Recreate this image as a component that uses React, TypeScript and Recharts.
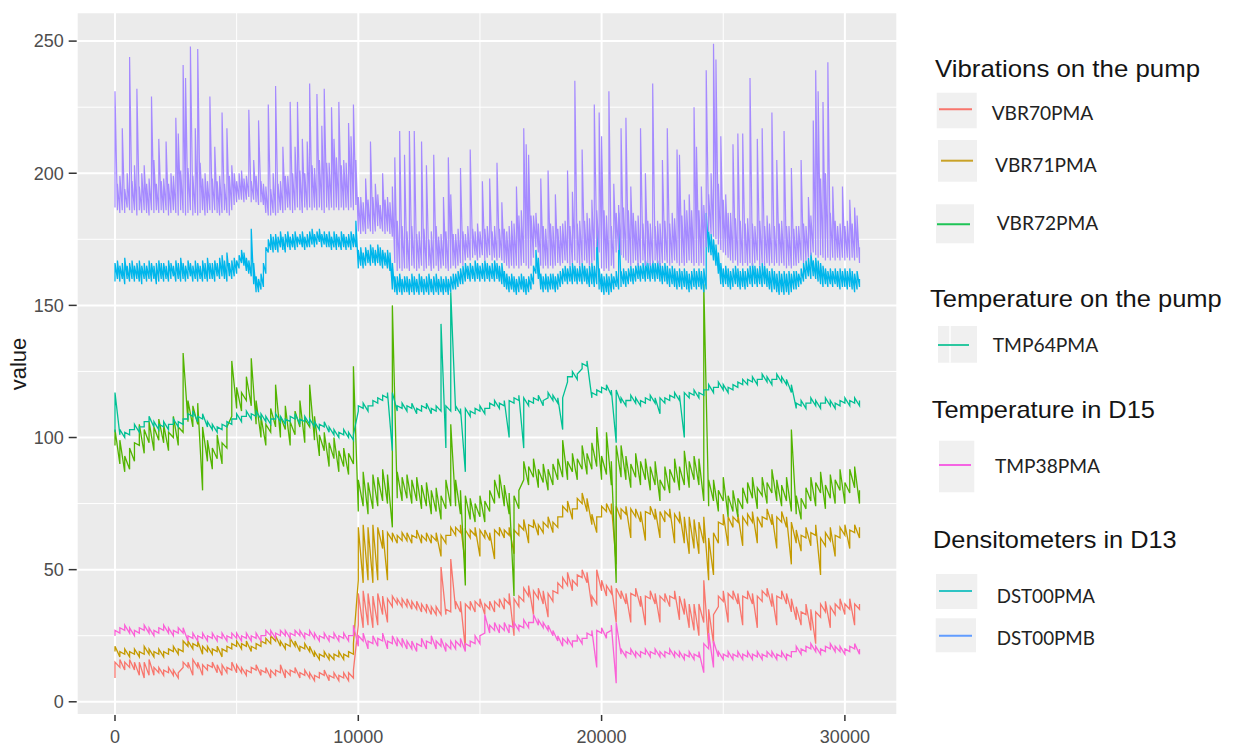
import React from 'react';
import { LineChart, Line, XAxis, YAxis, CartesianGrid, ReferenceLine } from 'recharts';

// sampling step (x units) of each stored series
const FINE_STEP = 100;
const STEP = 200;

// DST00PMB (purple): per-100 bin high / low
const dst00pmbHigh = [
  231, 196, 199, 217, 194, 200, 244, 197, 203, 232, 195, 200, 203, 196, 198, 229, 205, 196, 213, 197,
  198, 212, 196, 200, 199, 221, 215, 201, 241, 236, 202, 248, 199, 217, 247, 204, 198, 200, 197, 229,
  198, 210, 197, 199, 223, 196, 217, 199, 203, 200, 197, 200, 201, 198, 199, 224, 197, 205, 199, 220,
  197, 196, 195, 226, 194, 200, 233, 196, 197, 210, 199, 199, 227, 200, 210, 227, 201, 213, 200, 212,
  234, 203, 202, 230, 205, 218, 232, 204, 204, 225, 213, 206, 227, 203, 205, 204, 219, 214, 226, 205,
  191, 191, 189, 198, 190, 212, 191, 196, 192, 188, 200, 190, 191, 189, 195, 206, 182, 216, 180, 207,
  178, 216, 180, 216, 177, 178, 212, 179, 203, 175, 178, 207, 180, 176, 177, 191, 178, 206, 192, 177,
  177, 179, 202, 178, 177, 180, 209, 179, 178, 181, 178, 197, 179, 180, 198, 178, 180, 204, 179, 189,
  179, 178, 180, 182, 181, 195, 184, 186, 217, 211, 207, 184, 184, 185, 181, 198, 180, 179, 201, 181,
  180, 192, 179, 180, 181, 182, 201, 180, 193, 235, 181, 182, 209, 182, 185, 183, 190, 226, 186, 223,
  214, 186, 184, 231, 180, 196, 185, 188, 217, 187, 221, 186, 195, 185, 182, 184, 217, 181, 200, 182,
  181, 234, 180, 182, 181, 205, 182, 217, 181, 185, 183, 209, 207, 184, 190, 186, 192, 186, 225, 210,
  186, 195, 188, 239, 192, 200, 249, 243, 196, 214, 190, 192, 185, 185, 211, 183, 215, 182, 215, 181,
  183, 236, 181, 180, 213, 182, 217, 180, 184, 181, 223, 180, 205, 181, 182, 216, 180, 180, 202, 179,
  180, 180, 205, 181, 180, 191, 184, 220, 239, 231, 198, 227, 200, 242, 185, 195, 182, 180, 181, 195,
  180, 182, 190, 181, 187, 184, 172,
];
const dst00pmbLow = [
  187, 186, 185, 186, 185, 187, 186, 185, 186, 184, 186, 185, 186, 185, 184, 186, 185, 186, 185, 186,
  185, 186, 184, 185, 186, 185, 184, 186, 185, 184, 185, 186, 184, 185, 184, 185, 186, 184, 185, 186,
  185, 186, 185, 184, 185, 186, 185, 184, 186, 188, 189, 190, 190, 189, 190, 191, 189, 190, 189, 188,
  189, 188, 185, 184, 184, 185, 184, 185, 186, 185, 186, 187, 186, 185, 186, 187, 186, 185, 187, 186,
  187, 186, 187, 186, 187, 186, 185, 187, 186, 187, 186, 187, 186, 187, 186, 187, 186, 187, 186, 188,
  178, 177, 178, 177, 179, 178, 177, 178, 180, 179, 178, 177, 178, 177, 176, 166, 163, 164, 163, 164,
  164, 163, 165, 164, 163, 164, 165, 163, 164, 165, 163, 164, 165, 163, 164, 165, 164, 163, 164, 165,
  164, 165, 166, 165, 167, 168, 167, 168, 169, 167, 168, 169, 167, 168, 169, 167, 168, 167, 168, 167,
  166, 165, 164, 165, 164, 165, 164, 165, 166, 165, 164, 165, 168, 172, 170, 165, 164, 165, 164, 165,
  164, 165, 166, 165, 166, 167, 166, 165, 166, 167, 166, 165, 166, 167, 166, 165, 166, 167, 172, 170,
  164, 163, 164, 163, 165, 164, 170, 171, 169, 168, 167, 166, 165, 166, 167, 165, 166, 167, 165, 166,
  165, 166, 167, 166, 165, 166, 167, 166, 165, 166, 167, 166, 165, 166, 165, 166, 167, 166, 165, 166,
  165, 166, 165, 172, 178, 177, 176, 175, 173, 171, 170, 169, 168, 167, 166, 167, 165, 166, 165, 166,
  165, 166, 165, 166, 167, 165, 166, 165, 166, 165, 166, 165, 166, 165, 166, 165, 164, 165, 164, 165,
  165, 166, 167, 166, 167, 168, 169, 170, 169, 168, 169, 168, 167, 168, 167, 168, 167, 168, 167, 168,
  167, 168, 167, 168, 167, 168, 166,
];

// DST00PMA (light blue): per-100 bin high / low
const dst00pmaHigh = [
  166, 167, 165, 166, 168, 165, 166, 167, 165, 166, 167, 165, 166, 165, 167, 166, 165, 166, 167, 166,
  166, 165, 167, 166, 165, 167, 166, 168, 166, 165, 167, 166, 165, 167, 166, 165, 167, 166, 168, 166,
  166, 167, 166, 168, 169, 167, 170, 166, 167, 168, 167, 169, 171, 170, 168, 167, 179, 166, 161, 160,
  162, 166, 172, 175, 177, 176, 177, 176, 178, 176, 177, 178, 176, 177, 178, 176, 177, 178, 176, 177,
  178, 179, 177, 178, 179, 177, 178, 177, 178, 176, 178, 177, 176, 178, 177, 176, 177, 178, 177, 182,
  171, 172, 170, 172, 171, 173, 172, 171, 173, 172, 171, 170, 171, 170, 166, 161, 161, 162, 160, 161,
  161, 160, 162, 161, 160, 162, 161, 160, 161, 162, 160, 161, 162, 160, 161, 160, 161, 160, 161, 162,
  162, 163, 164, 165, 166, 165, 166, 165, 167, 166, 165, 166, 167, 166, 165, 166, 167, 166, 165, 166,
  163, 162, 161, 162, 161, 160, 161, 162, 161, 160, 161, 162, 165, 171, 168, 162, 161, 162, 161, 162,
  162, 161, 162, 163, 164, 165, 164, 165, 166, 165, 164, 165, 166, 165, 164, 165, 166, 165, 181, 164,
  162, 161, 162, 161, 162, 161, 163, 185, 163, 164, 163, 164, 165, 164, 165, 166, 165, 166, 167, 166,
  166, 167, 166, 167, 166, 165, 166, 165, 164, 165, 164, 163, 164, 163, 164, 163, 162, 163, 164, 163,
  164, 163, 164, 185, 178, 177, 175, 173, 170, 166, 164, 165, 164, 163, 164, 165, 164, 163, 164, 163,
  164, 165, 166, 165, 164, 165, 166, 165, 164, 163, 164, 163, 162, 163, 162, 163, 162, 163, 162, 163,
  163, 162, 164, 166, 167, 168, 170, 167, 168, 167, 166, 165, 164, 163, 164, 163, 164, 163, 164, 163,
  164, 163, 164, 163, 162, 163, 160,
];
const dst00pmaLow = [
  159, 160, 159, 160, 158, 160, 159, 160, 159, 160, 159, 158, 160, 159, 160, 159, 160, 158, 159, 160,
  159, 160, 159, 160, 161, 159, 160, 159, 160, 159, 160, 161, 159, 160, 159, 160, 159, 160, 159, 160,
  160, 159, 161, 160, 161, 160, 159, 161, 160, 161, 162, 164, 166, 165, 163, 162, 161, 158, 155, 155,
  156, 157, 162, 170, 171, 170, 171, 170, 172, 171, 170, 172, 171, 172, 171, 172, 173, 172, 171, 172,
  172, 173, 172, 173, 174, 172, 173, 172, 172, 171, 172, 171, 172, 171, 172, 171, 172, 171, 172, 172,
  164, 165, 164, 165, 166, 165, 166, 165, 166, 165, 164, 165, 164, 163, 156, 155, 154, 155, 154, 155,
  155, 154, 155, 154, 155, 154, 155, 154, 155, 154, 155, 154, 155, 154, 155, 154, 155, 154, 155, 156,
  156, 157, 158, 158, 159, 160, 159, 160, 159, 160, 159, 160, 159, 160, 159, 160, 159, 160, 159, 158,
  157, 156, 155, 156, 155, 154, 155, 156, 155, 154, 155, 156, 158, 162, 160, 156, 155, 156, 155, 156,
  156, 155, 156, 157, 158, 159, 158, 159, 158, 159, 158, 159, 158, 159, 158, 157, 158, 157, 158, 156,
  155, 154, 155, 154, 155, 156, 157, 156, 157, 158, 157, 158, 159, 158, 159, 160, 159, 160, 159, 160,
  159, 160, 159, 160, 159, 158, 159, 158, 157, 158, 157, 156, 157, 156, 157, 156, 155, 156, 157, 156,
  157, 156, 155, 156, 170, 169, 167, 165, 162, 158, 157, 158, 157, 156, 157, 158, 157, 156, 157, 156,
  157, 158, 157, 158, 157, 158, 157, 158, 157, 156, 155, 156, 155, 154, 155, 154, 155, 154, 155, 156,
  156, 157, 158, 159, 160, 161, 160, 161, 160, 159, 158, 157, 158, 157, 158, 157, 158, 157, 156, 157,
  157, 156, 157, 156, 155, 156, 157,
];

// VBR72PMA (green): per-200 bin high / low
const vbr72pmaHigh = [
  103, 99, 93, 96, 98, 105, 103, 106, 104, 107,
  105, 102, 108, 104, 132, 114, 112, 113, 104, 99,
  96, 101, 98, 104, 129, 119, 117, 123, 130, 114,
  108, 105, 111, 120, 108, 112, 106, 110, 114, 107,
  120, 108, 101, 102, 98, 100, 95, 96, 94, 127,
  84, 87, 83, 86, 85, 88, 86, 150, 87, 85,
  86, 84, 85, 82, 83, 80, 81, 78, 84, 105,
  84, 80, 78, 77, 75, 78, 76, 80, 84, 86,
  82, 79, 78, 80, 91, 89, 92, 88, 90, 88,
  90, 92, 99, 91, 94, 92, 97, 94, 98, 104,
  93, 102, 91, 97, 97, 93, 90, 94, 91, 92,
  89, 91, 84, 89, 88, 92, 89, 95, 91, 93,
  92, 158, 84, 84, 80, 85, 78, 80, 77, 81,
  83, 85, 81, 85, 83, 88, 84, 82, 85, 103,
  78, 77, 81, 85, 83, 87, 82, 86, 84, 88,
  83, 88, 89, 80,
];
const vbr72pmaLow = [
  97, 90, 87, 88, 91, 97, 94, 98, 95, 99,
  98, 95, 100, 97, 102, 106, 104, 105, 80, 91,
  88, 92, 90, 96, 108, 111, 110, 114, 112, 105,
  100, 97, 102, 104, 100, 103, 97, 101, 104, 98,
  104, 99, 93, 95, 89, 92, 87, 89, 86, 90,
  72, 74, 71, 73, 74, 76, 75, 66, 77, 76,
  77, 75, 76, 73, 74, 71, 72, 69, 73, 74,
  74, 71, 44, 69, 68, 70, 68, 72, 75, 77,
  74, 71, 40, 73, 84, 82, 85, 81, 83, 80,
  82, 84, 85, 84, 87, 84, 88, 86, 88, 89,
  84, 86, 82, 45, 85, 84, 81, 85, 82, 84,
  80, 82, 76, 80, 79, 83, 80, 82, 81, 84,
  82, 76, 74, 76, 72, 76, 70, 72, 70, 73,
  75, 77, 73, 78, 75, 79, 76, 74, 76, 72,
  71, 69, 73, 76, 74, 79, 73, 77, 75, 80,
  75, 79, 81, 75,
];

// VBR71PMA (gold): per-200 bin high / low
const vbr71pmaHigh = [
  21, 19, 20, 19, 20, 19, 21, 20, 19, 20,
  19, 20, 21, 20, 23, 23, 22, 23, 21, 21,
  20, 21, 20, 21, 22, 23, 22, 23, 21, 22,
  23, 24, 25, 25, 23, 22, 24, 23, 21, 22,
  21, 19, 18, 19, 18, 18, 19, 18, 19, 22,
  66, 67, 66, 67, 66, 65, 64, 64, 63, 64,
  64, 63, 65, 63, 64, 63, 64, 63, 63, 66,
  66, 67, 65, 65, 66, 65, 65, 64, 65, 66,
  65, 66, 65, 67, 69, 67, 69, 67, 68, 70,
  68, 70, 74, 76, 73, 77, 79, 77, 71, 70,
  74, 75, 75, 74, 73, 74, 73, 73, 72, 72,
  74, 73, 72, 72, 73, 71, 72, 70, 70, 69,
  68, 70, 62, 64, 68, 71, 70, 70, 71, 70,
  71, 72, 70, 70, 73, 71, 70, 72, 70, 68,
  65, 63, 66, 64, 67, 62, 64, 66, 63, 66,
  67, 65, 67, 66,
];
const vbr71pmaLow = [
  19, 17, 18, 17, 18, 17, 18, 18, 17, 18,
  17, 18, 19, 18, 19, 21, 20, 21, 18, 19,
  18, 19, 17, 19, 20, 21, 20, 21, 19, 20,
  21, 22, 22, 23, 21, 20, 21, 21, 19, 20,
  19, 17, 16, 17, 16, 16, 17, 16, 17, 18,
  46, 45, 46, 45, 46, 58, 46, 61, 60, 61,
  61, 60, 62, 60, 61, 60, 61, 55, 60, 63,
  63, 64, 52, 62, 63, 55, 62, 61, 54, 63,
  62, 63, 56, 63, 65, 60, 66, 63, 64, 66,
  64, 66, 70, 72, 69, 73, 75, 72, 67, 64,
  70, 72, 71, 52, 69, 71, 62, 70, 68, 61,
  71, 69, 62, 68, 70, 60, 68, 60, 56, 58,
  56, 60, 46, 48, 60, 67, 59, 66, 68, 59,
  67, 68, 60, 66, 69, 67, 58, 68, 66, 52,
  60, 57, 62, 59, 63, 48, 59, 61, 55, 62,
  63, 58, 64, 62,
];

// VBR70PMA (red): per-200 bin high / low
const vbr70pmaHigh = [
  15, 16, 15, 16, 15, 15, 15, 16, 13, 13,
  12, 13, 12, 11, 15, 15, 16, 15, 14, 14,
  15, 14, 14, 13, 15, 14, 13, 12, 13, 14,
  12, 13, 12, 12, 14, 12, 12, 13, 11, 12,
  11, 10, 11, 12, 10, 11, 10, 11, 11, 12,
  41, 42, 41, 40, 41, 40, 39, 40, 39, 39,
  39, 38, 38, 37, 37, 36, 36, 51, 35, 54,
  38, 38, 37, 38, 38, 39, 37, 38, 38, 39,
  39, 41, 39, 40, 43, 44, 42, 43, 42, 41,
  42, 45, 47, 49, 46, 48, 50, 49, 40, 50,
  46, 44, 44, 43, 42, 41, 41, 43, 40, 40,
  42, 41, 40, 41, 40, 42, 40, 39, 37, 37,
  37, 46, 35, 33, 40, 42, 41, 42, 41, 40,
  42, 41, 40, 42, 43, 41, 40, 42, 41, 39,
  36, 34, 37, 35, 34, 37, 38, 36, 37, 39,
  37, 39, 37, 37,
];
const vbr70pmaLow = [
  9, 13, 12, 13, 12, 10, 9, 10, 10, 11,
  10, 11, 10, 9, 13, 13, 10, 13, 10, 12,
  13, 11, 10, 11, 12, 11, 11, 10, 11, 12,
  10, 11, 9, 10, 11, 9, 10, 11, 9, 10,
  9, 8, 9, 10, 8, 9, 8, 9, 8, 9,
  29, 28, 29, 28, 29, 33, 30, 36, 37, 36,
  36, 35, 35, 34, 34, 33, 33, 33, 33, 34,
  35, 34, 20, 35, 34, 36, 33, 35, 34, 36,
  35, 37, 25, 36, 38, 40, 33, 39, 37, 32,
  38, 41, 43, 44, 42, 44, 47, 45, 36, 37,
  42, 40, 41, 30, 39, 37, 30, 40, 36, 29,
  39, 37, 30, 38, 36, 39, 31, 33, 28, 27,
  25, 30, 21, 22, 36, 38, 30, 39, 37, 29,
  39, 37, 28, 38, 40, 36, 29, 39, 37, 34,
  31, 29, 33, 27, 22, 32, 34, 28, 33, 35,
  33, 35, 29, 35,
];

// TMP64PMA (teal): per-200 bin high / low
const tmp64pmaHigh = [
  117, 103, 102, 103, 105, 104, 106, 108, 106, 105,
  106, 105, 107, 106, 107, 109, 110, 108, 109, 106,
  105, 104, 105, 106, 107, 109, 108, 110, 109, 110,
  109, 108, 107, 109, 108, 107, 108, 109, 107, 108,
  107, 106, 105, 106, 104, 103, 102, 103, 102, 101,
  112, 113, 112, 114, 115, 116, 117, 117, 112, 113,
  112, 113, 111, 112, 113, 111, 112, 143, 112, 155,
  112, 111, 111, 110, 111, 112, 111, 113, 114, 113,
  114, 114, 115, 116, 115, 114, 115, 116, 114, 117,
  116, 115, 115, 123, 125, 124, 128, 129, 117, 118,
  119, 120, 118, 118, 115, 114, 116, 115, 114, 115,
  116, 115, 115, 115, 116, 117, 116, 117, 117, 118,
  117, 118, 120, 119, 121, 120, 119, 120, 121, 122,
  122, 123, 122, 124, 123, 122, 124, 123, 122, 120,
  113, 114, 113, 115, 114, 113, 115, 114, 113, 114,
  115, 114, 115, 114,
];
const tmp64pmaLow = [
  102, 101, 100, 101, 103, 102, 104, 106, 104, 103,
  104, 103, 105, 104, 105, 107, 108, 106, 107, 104,
  103, 102, 103, 104, 105, 107, 106, 108, 107, 108,
  107, 106, 105, 107, 106, 105, 106, 107, 105, 106,
  105, 104, 103, 104, 102, 101, 100, 101, 100, 99,
  110, 111, 110, 112, 113, 114, 115, 95, 110, 111,
  110, 111, 109, 110, 111, 109, 110, 110, 96, 110,
  110, 109, 87, 108, 109, 110, 109, 111, 112, 111,
  112, 100, 113, 114, 96, 112, 113, 114, 112, 115,
  114, 113, 103, 121, 123, 122, 126, 127, 115, 116,
  117, 118, 116, 98, 113, 112, 114, 113, 112, 113,
  114, 113, 109, 113, 114, 115, 114, 100, 115, 116,
  115, 116, 118, 117, 119, 118, 117, 118, 119, 120,
  120, 121, 120, 122, 121, 120, 122, 121, 120, 117,
  111, 112, 111, 113, 112, 111, 113, 112, 111, 112,
  113, 112, 113, 112,
];

// TMP38PMA (pink): per-200 bin high / low
const tmp38pmaHigh = [
  27, 28, 29, 28, 27, 28, 29, 28, 27, 28,
  29, 28, 27, 28, 28, 25, 26, 25, 26, 25,
  26, 25, 26, 25, 26, 26, 25, 26, 25, 26,
  25, 27, 27, 26, 27, 27, 26, 27, 27, 26,
  27, 26, 25, 26, 25, 26, 25, 26, 25, 29,
  25, 26, 23, 25, 24, 26, 23, 25, 24, 24,
  23, 23, 22, 24, 23, 25, 23, 24, 22, 23,
  23, 24, 22, 23, 25, 25, 33, 29, 30, 29,
  30, 29, 30, 29, 31, 30, 33, 31, 30, 29,
  27, 25, 24, 24, 23, 25, 24, 26, 27, 27,
  28, 26, 29, 30, 20, 19, 20, 19, 19, 20,
  19, 20, 19, 19, 20, 19, 19, 18, 19, 18,
  19, 22, 26, 23, 19, 18, 19, 18, 19, 18,
  19, 18, 19, 18, 19, 19, 18, 19, 18, 19,
  21, 20, 21, 22, 21, 20, 21, 22, 21, 21,
  20, 21, 22, 20,
];
const tmp38pmaLow = [
  25, 26, 27, 26, 25, 26, 27, 26, 25, 26,
  27, 26, 25, 26, 26, 23, 24, 23, 24, 23,
  24, 23, 24, 23, 24, 24, 23, 24, 23, 24,
  23, 25, 25, 24, 25, 25, 24, 25, 25, 24,
  25, 24, 23, 24, 23, 24, 23, 24, 23, 25,
  21, 23, 20, 22, 21, 23, 20, 22, 21, 21,
  20, 20, 19, 21, 20, 22, 20, 21, 19, 20,
  20, 21, 19, 21, 22, 22, 26, 26, 27, 26,
  27, 26, 28, 27, 28, 28, 30, 29, 28, 27,
  25, 23, 21, 22, 21, 23, 22, 24, 25, 13,
  26, 24, 27, 7, 18, 17, 18, 17, 17, 18,
  17, 18, 17, 17, 18, 17, 17, 16, 17, 16,
  17, 11, 20, 13, 17, 16, 17, 16, 17, 16,
  17, 16, 17, 16, 17, 17, 16, 17, 16, 17,
  19, 18, 19, 20, 19, 18, 19, 20, 19, 19,
  18, 19, 20, 18,
];

const xTicks = [0, 10000, 20000, 30000];
const yTicks = [0, 50, 100, 150, 200, 250];
const xMinorTicks = [5000, 15000, 25000];
const yMinorTicks = [25, 75, 125, 175, 225];

type Pt = { x: number; y: number };

// min / max per bin: each bin rises from its low to its high, then falls to the next bin's low
const toBand = (low: number[], high: number[], step: number): Pt[] =>
  low.flatMap((lo, i) => [
    { x: i * step, y: lo },
    { x: i * step, y: high[i] },
  ]);

// drawing order as in the source plot (later on top)
const series = [
  { name: 'VBR70PMA', points: toBand(vbr70pmaLow, vbr70pmaHigh, STEP), color: '#F8766D', width: 1.3 },
  { name: 'VBR71PMA', points: toBand(vbr71pmaLow, vbr71pmaHigh, STEP), color: '#C49A00', width: 1.3 },
  { name: 'VBR72PMA', points: toBand(vbr72pmaLow, vbr72pmaHigh, STEP), color: '#53B400', width: 1.3 },
  { name: 'TMP64PMA', points: toBand(tmp64pmaLow, tmp64pmaHigh, STEP), color: '#00C094', width: 1.3 },
  { name: 'DST00PMA', points: toBand(dst00pmaLow, dst00pmaHigh, FINE_STEP), color: '#00B6EB', width: 1.3 },
  { name: 'DST00PMB', points: toBand(dst00pmbLow, dst00pmbHigh, FINE_STEP), color: '#A58AFF', width: 1.2 },
  { name: 'TMP38PMA', points: toBand(tmp38pmaLow, tmp38pmaHigh, STEP), color: '#FB61D7', width: 1.3 },
];

const legendTitles = ['Vibrations on the pump', 'Temperature on the pump', 'Temperature in D15', 'Densitometers in D13'];
const legendLabels = ['VBR70PMA', 'VBR71PMA', 'VBR72PMA', 'TMP64PMA', 'TMP38PMA', 'DST00PMA', 'DST00PMB'];
const legendColors = ['#F8766D', '#C9A227', '#1FC456', '#2CC8A0', '#F564E3', '#2EC4C4', '#619CFF'];

const TITLE_FONT = '"Liberation Sans", Arial, sans-serif';
const LABEL_FONT = 'Lato, "Open Sans", sans-serif';

const titleLayout = [
  { x: 935, y: 76.7, w: 265 },
  { x: 930, y: 306.7, w: 291.7 },
  { x: 931.7, y: 417.7, w: 223.3 },
  { x: 933, y: 548.3, w: 243.7 },
];

const keyLayout = [
  { bx: 936.7, by: 92.7, bw: 40, bh: 35.6, ly: 109.3, l1: 939, l2: 972, tx: 991.7, ty: 120, tw: 101.6 },
  { bx: 938, by: 140, bw: 39, bh: 41.7, ly: 160.7, l1: 941, l2: 973, tx: 995, ty: 171.7, tw: 101.7 },
  { bx: 936, by: 204.3, bw: 38, bh: 39, ly: 224.3, l1: 937, l2: 970, tx: 996.7, ty: 230, tw: 101.6 },
  { bx: 938, by: 326, bw: 39, bh: 36.7, ly: 345, l1: 938, l2: 969, tx: 992.7, ty: 352.3, tw: 105.6 },
  { bx: 939, by: 440.7, bw: 35.3, bh: 51.6, ly: 465, l1: 939, l2: 971, tx: 995, ty: 473.3, tw: 105 },
  { bx: 936, by: 574, bw: 41.3, bh: 35, ly: 591, l1: 939, l2: 972, tx: 996.7, ty: 603.3, tw: 98.3 },
  { bx: 935.7, by: 618.3, bw: 40.3, bh: 34, ly: 635.7, l1: 939, l2: 972, tx: 996.7, ty: 645, tw: 98.3 },
];

function Overlay() {
  return (
    <svg width={1233} height={747} style={{ position: 'absolute', left: 0, top: 0, pointerEvents: 'none' }}>
      <text
        x={0}
        y={0}
        transform="translate(25.5 364) rotate(-90)"
        textAnchor="middle"
        fontFamily={TITLE_FONT}
        fontSize={22}
        fill="#1A1A1A"
      >
        value
      </text>
      {legendTitles.map((t, i) => (
        <text
          key={t}
          x={titleLayout[i].x}
          y={titleLayout[i].y}
          fontFamily={TITLE_FONT}
          fontSize={24}
          fill="#141414"
          textLength={titleLayout[i].w}
          lengthAdjust="spacingAndGlyphs"
        >
          {t}
        </text>
      ))}
      {legendLabels.map((lab, i) => {
        const k = keyLayout[i];
        return (
          <g key={lab}>
            <rect x={k.bx} y={k.by} width={k.bw} height={k.bh} fill="#F0F0F0" />
            {lab === 'TMP64PMA' && <line x1={950} x2={950} y1={k.by} y2={k.by + k.bh} stroke="#FFFFFF" strokeWidth={1.5} />}
            <line x1={k.l1} x2={k.l2} y1={k.ly} y2={k.ly} stroke={legendColors[i]} strokeWidth={2} />
            <text
              x={k.tx}
              y={k.ty}
              fontFamily={LABEL_FONT}
              fontSize={19}
              fill="#222222"
              textLength={k.tw}
              lengthAdjust="spacingAndGlyphs"
            >
              {lab}
            </text>
          </g>
        );
      })}
    </svg>
  );
}

const tickStyle = { fill: '#4D4D4D', fontSize: 18, fontFamily: TITLE_FONT };

export default function App() {
  return (
    <div style={{ position: 'absolute', left: 0, top: 0, width: 1233, height: 747, background: '#FFFFFF' }}>
      <LineChart width={1233} height={747} margin={{ top: 12.3, right: 335.7, bottom: 0, left: 0 }}>
        <CartesianGrid fill="#EBEBEB" stroke="#FFFFFF" strokeWidth={2} />
        {xMinorTicks.map((v) => (
          <ReferenceLine key={'xm' + v} x={v} stroke="#FFFFFF" strokeWidth={1} />
        ))}
        {yMinorTicks.map((v) => (
          <ReferenceLine key={'ym' + v} y={v} stroke="#FFFFFF" strokeWidth={1} />
        ))}
        <XAxis
          type="number"
          dataKey="x"
          domain={[-1574, 32154]}
          ticks={xTicks}
          interval={0}
          allowDataOverflow
          axisLine={false}
          tickLine={{ stroke: '#333333', strokeWidth: 1.5 }}
          tickSize={6}
          tickMargin={9}
          height={32}
          tick={tickStyle}
        />
        <YAxis
          type="number"
          dataKey="y"
          domain={[-5, 260.9]}
          ticks={yTicks}
          interval={0}
          allowDataOverflow
          axisLine={false}
          tickLine={{ stroke: '#333333', strokeWidth: 1.5 }}
          tickSize={8}
          tickMargin={5}
          width={76.7}
          tick={tickStyle}
        />
        {series.map((s) => (
          <Line
            key={s.name}
            name={s.name}
            data={s.points}
            dataKey="y"
            type="linear"
            stroke={s.color}
            strokeWidth={s.width}
            dot={false}
            activeDot={false}
            isAnimationActive={false}
          />
        ))}
      </LineChart>
      <Overlay />
    </div>
  );
}
